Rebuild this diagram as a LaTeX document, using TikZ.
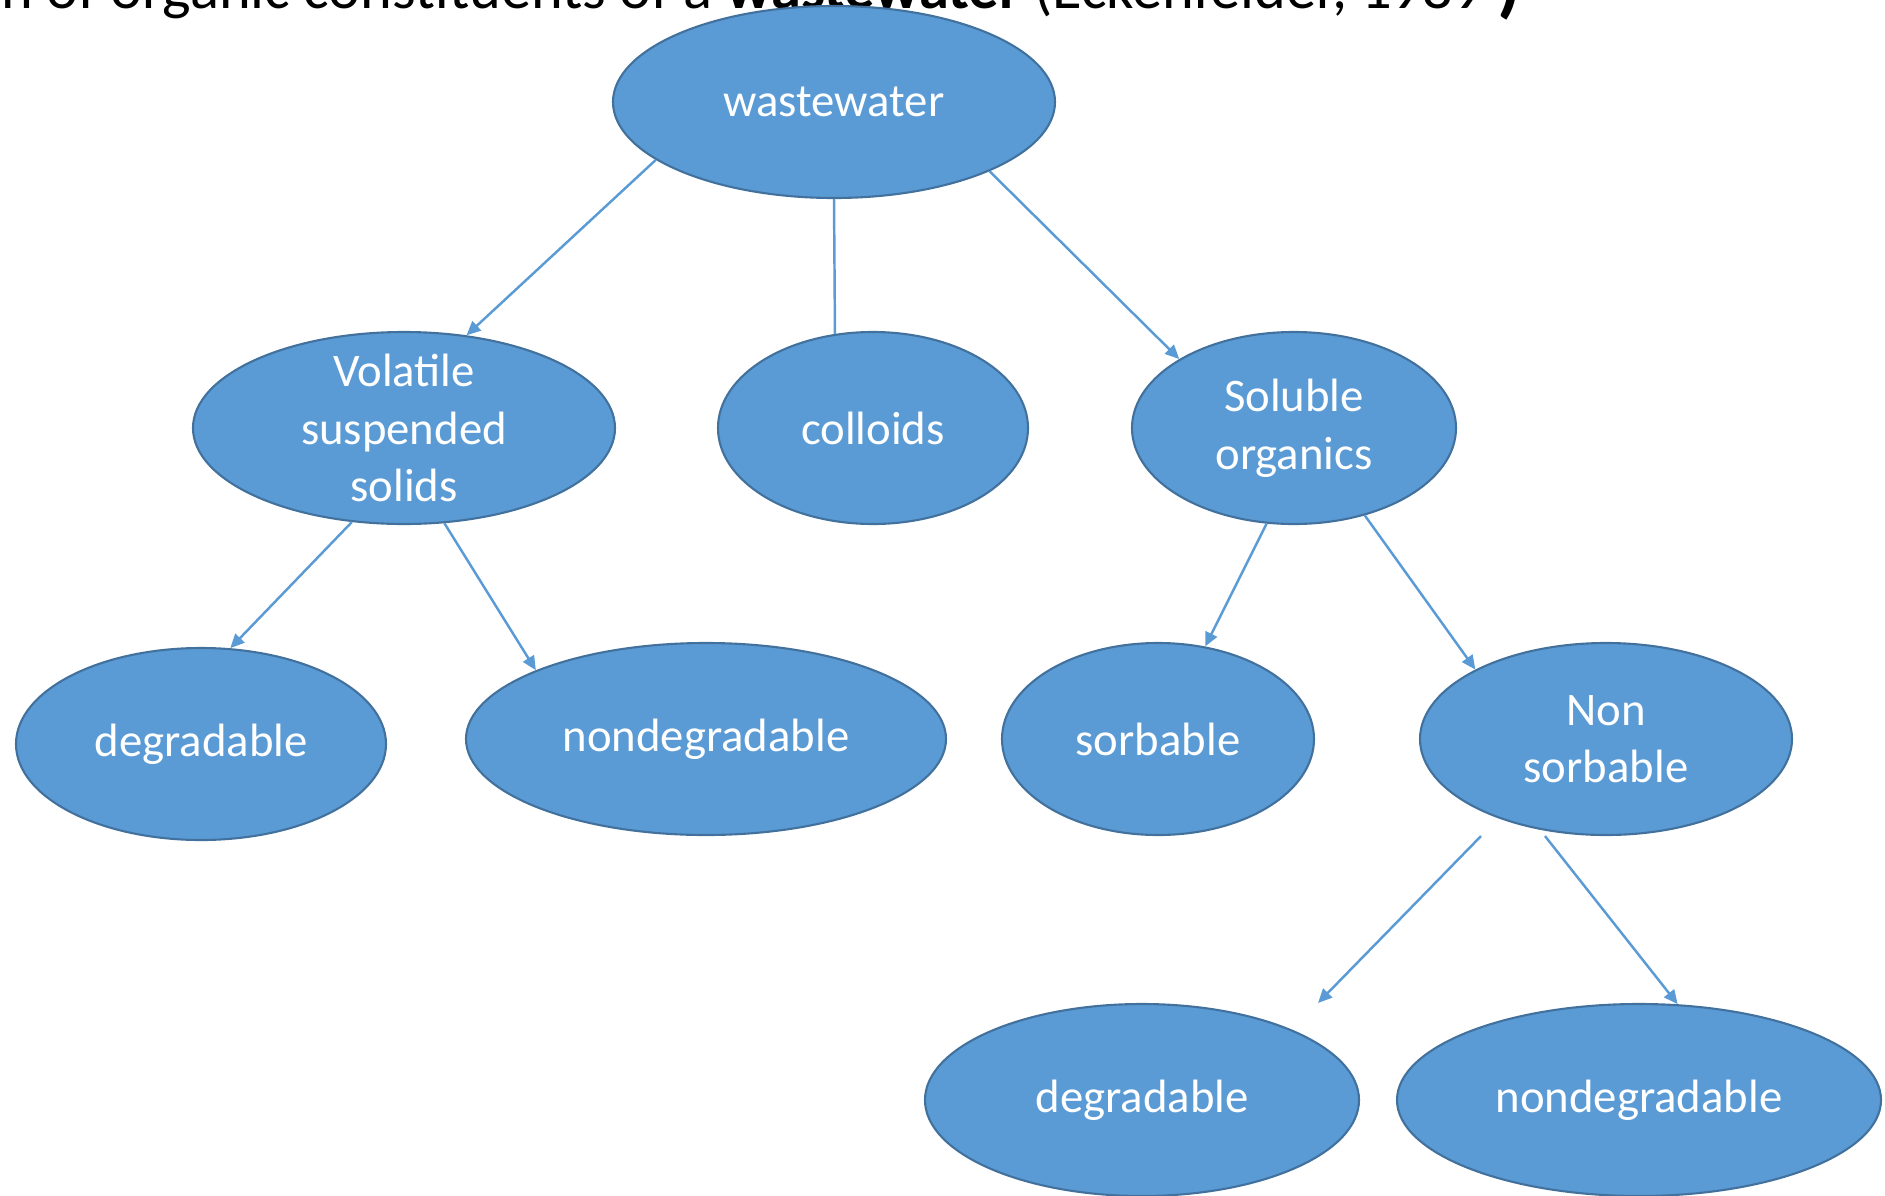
\documentclass[tikz,border=0pt]{standalone}
\usepackage{fontspec}
\setmainfont{Carlito}
\usepackage{tikz}
\usetikzlibrary{arrows.meta}
\usetikzlibrary{positioning,shapes.geometric}
\definecolor{boxblue}{HTML}{5B9BD5}
\definecolor{rimblue}{HTML}{41719C}

\begin{document}
\begin{tikzpicture}[on grid, node distance=3cm,
			bubble/.style={ellipse,draw=rimblue,fill=boxblue,line width=0.6pt,text=white,align=center,
				inner xsep=0pt,inner ysep=-0.45cm,minimum height=1.92cm,font=\fontsize{13.3}{16.4}\selectfont},
			link/.style={draw=boxblue,line width=0.7pt},
			feed/.style={link,-{Triangle[length=4pt,width=3.6pt]}}]
			
			\useasboundingbox (0,0) rectangle (18.85,-11.95);
			\clip (0,0) rectangle (18.85,-11.95);
			
			\node[anchor=base east,font=\fontsize{17.2}{20}\selectfont] (title) at (15.34,-0.08)
				{Classification of organic constituents of a \textbf{wastewater} (Eckenfelder, 1989 {\fontsize{22}{22}\selectfont\bfseries )}};
			
			\node[bubble,minimum width=4.42cm] (ww) at (8.34,-1.02) {wastewater};
			\node[bubble,minimum width=4.22cm] (vss) [below left=3.26cm and 4.30cm of ww] {Volatile\\suspended\\solids};
			\node[bubble,minimum width=3.10cm] (col) [below right=3.26cm and 0.39cm of ww] {colloids};
			\node[bubble,minimum width=3.24cm] (sol) [below right=3.26cm and 4.60cm of ww] {Soluble\\organics};
			\node[bubble,minimum width=3.70cm] (deg1) [below left=3.16cm and 2.03cm of vss] {degradable};
			\node[bubble,minimum width=4.80cm] (nondeg1) [below right=3.11cm and 3.02cm of vss] {nondegradable};
			\node[bubble,minimum width=3.12cm] (sorb) [below left=3.11cm and 1.36cm of sol] {sorbable};
			\node[bubble,minimum width=3.72cm] (nons) [below right=3.11cm and 3.12cm of sol] {Non\\sorbable};
			\node[bubble,minimum width=4.34cm] (deg2) [below left=3.61cm and 4.64cm of nons] {degradable};
			\node[bubble,minimum width=4.84cm] (nondeg2) [below right=3.61cm and 0.33cm of nons] {nondegradable};
			
			\draw[feed] (ww.198) -- (vss.56);
			\draw[link] (ww.south) -- (col.112);
			\draw[feed] (ww.336) -- (sol.149);
			\draw[feed] (vss.241) -- (deg1.73);
			\draw[feed] (vss.293) -- (nondeg1.158);
			\draw[feed] (sol.254) -- (sorb.63);
			\draw[feed] (sol.309) -- (nons.152);
			\draw[feed] ([xshift=-1.25cm]nons.south) -- ([xshift=1.76cm]deg2.north);
			\draw[feed] ([xshift=-0.61cm]nons.south) -- (nondeg2.68);
			\end{tikzpicture}
\end{document}
